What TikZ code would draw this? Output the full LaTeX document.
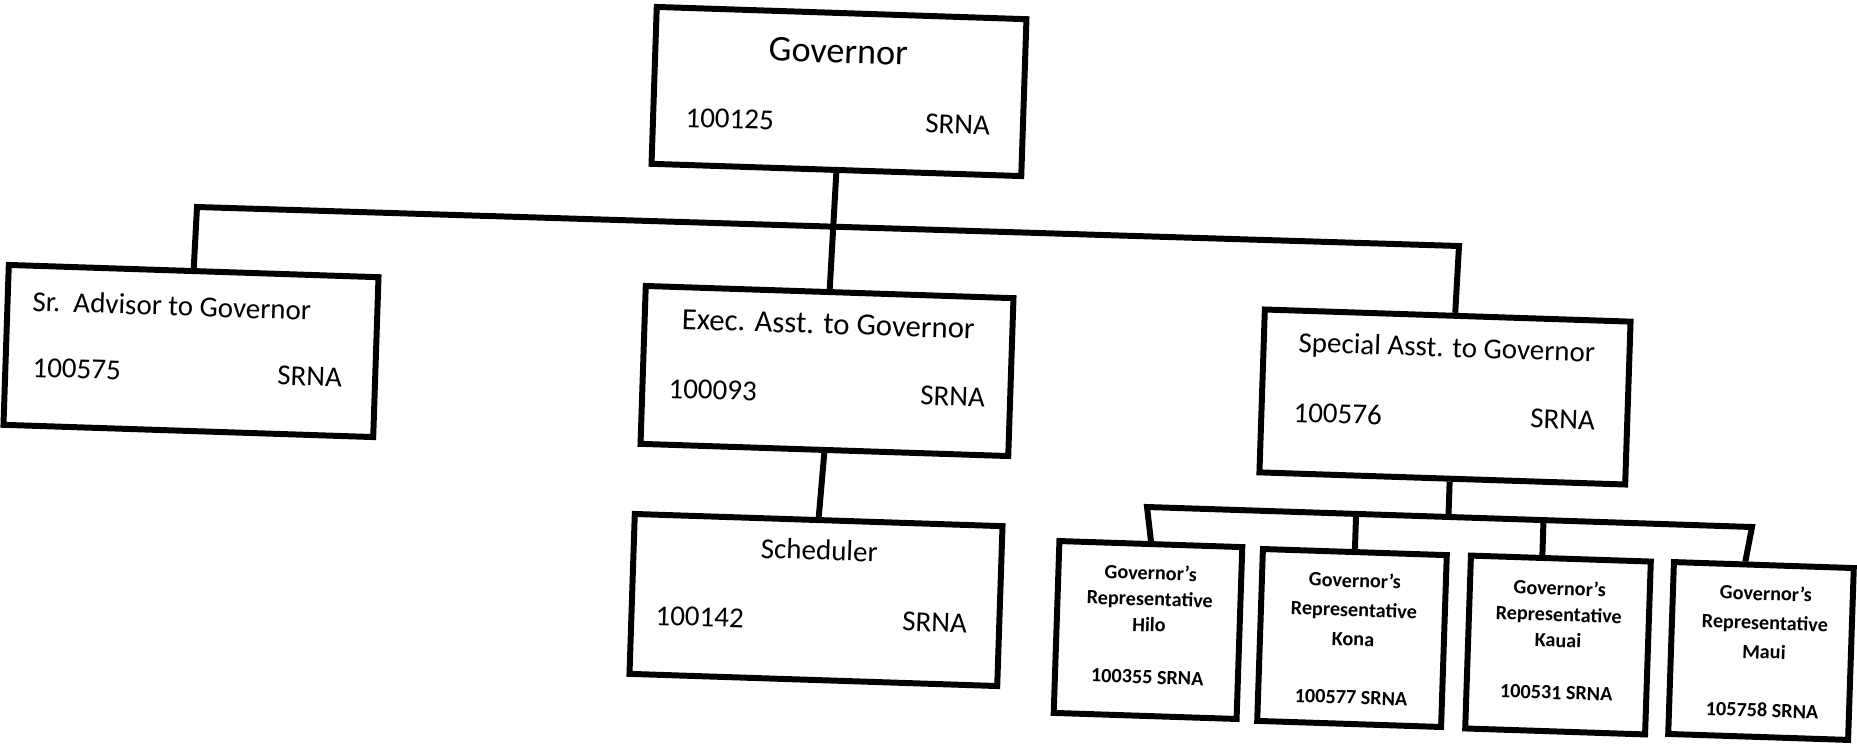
\documentclass[tikz,border=0pt]{standalone}
\usepackage{fontspec}
\setmainfont{Carlito}
\usetikzlibrary{calc}
\begin{document}
\begin{tikzpicture}[x=0.02cm,y=-0.02cm,
  box/.style={draw, line width=3.4pt, rotate=-1.9, inner sep=0pt},
  big/.style={box, minimum width=7.36cm, minimum height=3.18cm},
  rep/.style={box, minimum width=3.64cm, minimum height=3.44cm},
  reptxt/.style={rotate=-1.9, inner sep=0pt, align=center,
    font=\bfseries\fontsize{11.5}{14.8}\selectfont},
  reptxtw/.style={reptxt, font=\bfseries\fontsize{11.5}{16.6}\selectfont},
  txt/.style={rotate=-1.9, inner sep=0pt, font=\fontsize{16.5}{20}\selectfont},
  link/.style={line width=3.4pt}]
\useasboundingbox (0,0) rectangle (1857,744);

% boxes
\node[big, minimum width=7.4cm, minimum height=3.14cm] (gov) at (839,91.5) {};
\node[big, minimum width=7.4cm, minimum height=3.2cm] (sr) at (191,351) {};
\node[big, minimum height=3.16cm] (exec) at (827,371) {};
\node[big, minimum height=3.2cm] (sched) at (816,600) {};
\node[big, minimum width=7.32cm, minimum height=3.26cm] (sp) at (1445,397) {};

% texts of the large boxes
\node[txt, anchor=base, font=\fontsize{20.6}{24}\selectfont] (govT) at (838,63) {Governor};
\node[txt, anchor=base west] (govN) at (685,127) {100125};
\node[txt, anchor=base east] (govG) at (990,135) {SRNA};

\node[txt, anchor=base west] (srT) at (32,311) {Sr.\ \ Advisor to Governor};
\node[txt, anchor=base west] (srN) at (32,377) {100575};
\node[txt, anchor=base east] (srG) at (342,387) {SRNA};

\node[txt, anchor=base, font=\fontsize{17.5}{21}\selectfont] (exT) at (828,334) {Exec. Asst. to Governor};
\node[txt, anchor=base west] (exN) at (668,398) {100093};
\node[txt, anchor=base east] (exG) at (985,407) {SRNA};

\node[txt, anchor=base] (scT) at (819,560) {Scheduler};
\node[txt, anchor=base west] (scN) at (655,625) {100142};
\node[txt, anchor=base east] (scG) at (967,633) {SRNA};

\node[txt, anchor=base west] (spT) at (1298,352) {Special Asst. to Governor};
\node[txt, anchor=base west] (spN) at (1293,422) {100576};
\node[txt, anchor=base east] (spG) at (1595,430) {SRNA};

% representatives
\node[rep, minimum width=3.66cm] (hilo) at (1148,630) {};
\node[rep, minimum width=3.68cm] (kona) at (1352,638) {};
\node[rep, minimum width=3.6cm, minimum height=3.46cm] (kauai) at (1558,645) {};
\node[rep, minimum width=3.6cm] (maui) at (1761,651) {};

\node[reptxt] (hiloT) at (1149,624.5)
  {Governor’s\\Representative\\Hilo\\[14.8pt]100355 SRNA};
\node[reptxtw] (konaT) at (1353,638.5)
  {Governor’s\\Representative\\Kona\\[16.6pt]100577 SRNA};
\node[reptxt] (kauaiT) at (1558,640)
  {Governor’s\\Representative\\Kauai\\[14.8pt]100531 SRNA};
\node[reptxtw] (mauiT) at (1764,651.5)
  {Governor’s\\Representative\\Maui\\[16.6pt]105758 SRNA};

% connectors
\coordinate (busL) at (197,207);
\coordinate (busR) at (1459,246);
\draw[link] (gov.south) -- (exec.north);
\draw[link] (sr.north) -- (busL) -- (busR) -- ($(sp.north west)!0.52!(sp.north east)$);
\draw[link] (exec.south) -- (sched.north);

\coordinate (b2L) at (1147,507);
\coordinate (b2R) at (1752,527);
\coordinate (b2S) at ($(b2L)!($(sp.south west)!0.52!(sp.south east)$)!(b2R)$);
\draw[link] ($(sp.south west)!0.52!(sp.south east)$) -- (b2S);
\draw[link] (hilo.north) -- (b2L) -- (b2R) -- ($(maui.north west)!0.4!(maui.north east)$);
\draw[link] (kona.north) -- ($(b2L)!(kona.north)!(b2R)$);
\draw[link] ($(kauai.north west)!0.4!(kauai.north east)$) --
  ($(b2L)!($(kauai.north west)!0.4!(kauai.north east)$)!(b2R)$);
\end{tikzpicture}
\end{document}
